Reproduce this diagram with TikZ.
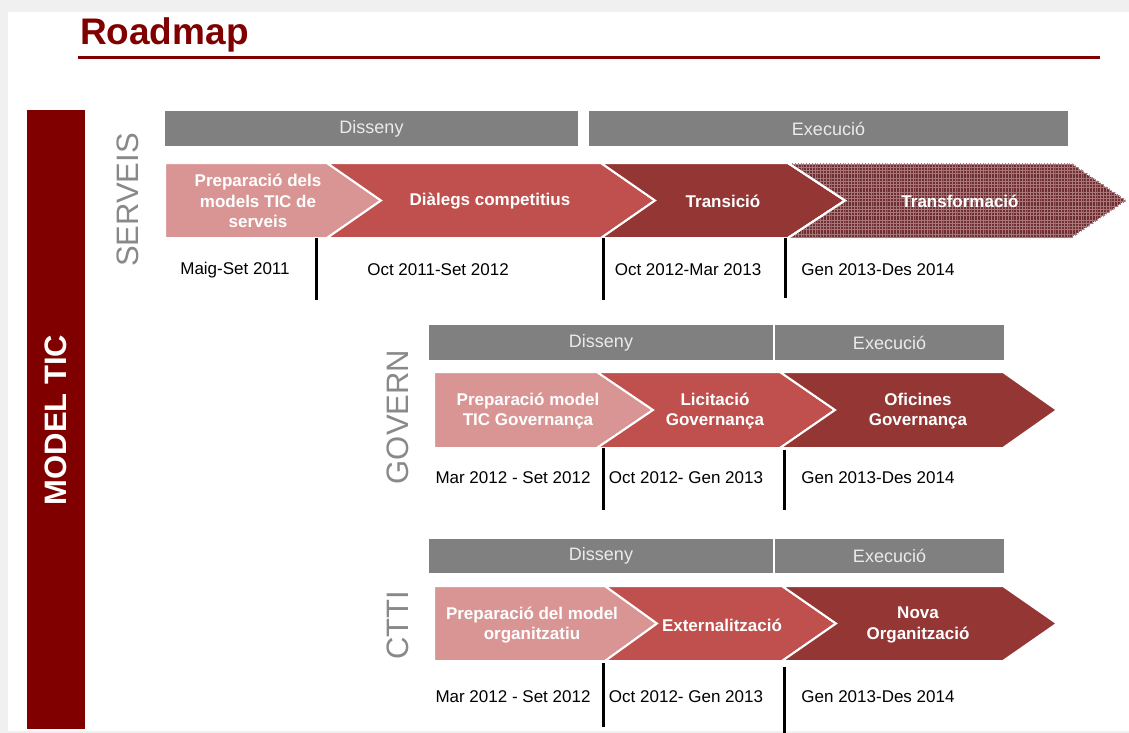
\documentclass[tikz,border=0pt]{standalone}
\usepackage{fontspec}
\setmainfont{Liberation Sans}
\usetikzlibrary{positioning,patterns.meta}

\definecolor{tictitle}{RGB}{128,0,0}
\definecolor{chevlight}{RGB}{217,149,148}
\definecolor{chevmid}{RGB}{192,80,77}
\definecolor{chevdark}{RGB}{148,54,52}
\definecolor{chevhatch}{RGB}{112,46,50}
\definecolor{hatchline}{RGB}{168,120,122}
\definecolor{hdrgray}{RGB}{128,128,128}
\definecolor{sidegray}{RGB}{137,137,137}

\tikzdeclarepattern{name=finegrid, type=uncolored,
  bottom left={(-.1pt,-.1pt)}, top right={(1.4pt,1.4pt)}, tile size={(1.4pt,1.4pt)},
  code={\draw[line width=.2pt] (0,0) -- (1.4pt,0) (0,0) -- (0,1.4pt);}}

\tikzset{
  hdr/.style={fill=hdrgray},
  hdrtext/.style={text=white!92!black, font=\fontsize{9}{11}\selectfont},
  chev/.style={draw=white, line width=1pt, line join=miter},
  chevtext/.style={text=white, align=center, font=\bfseries\fontsize{8.5}{10.3}\selectfont},
  datetext/.style={text=black, font=\fontsize{8.5}{10}\selectfont},
  sidelabel/.style={text=sidegray, rotate=90, font=\fontsize{15.5}{18}\selectfont},
  sep/.style={draw=black, line width=1.5pt}
}

\newcommand{\header}[6]{%
  \fill[hdr] (#2,#4) rectangle (#3,#5);
  \node[hdrtext] (#1) at ({(#2+#3)/2},{(#4+#5)/2}) {#6};}
\newcommand{\chevron}[7]{%
  \filldraw[chev,#7] (#1,#5) -- (#3,#5) -- (#4,{(#5+#6)/2}) -- (#3,#6) -- (#1,#6) -- (#2,{(#5+#6)/2}) -- cycle;}

\begin{document}
\begin{tikzpicture}[x=0.5pt,y=-0.5pt]
  \useasboundingbox (0,0) rectangle (1129,733);
  \fill[black!6] (0,0) rectangle (1129,733);
  \fill[white] (8,12) rectangle (1129,731);

  \node[anchor=base west, text=tictitle, font=\bfseries\fontsize{18.5}{22}\selectfont] (title) at (73,45) {Roadmap};
  \draw[tictitle, line width=1.5pt] (78,58) -- (1100,58);

  \fill[tictitle] (27,110) rectangle (85,729);
  \node[text=white, rotate=90, font=\bfseries\fontsize{15.5}{18}\selectfont] (model) at (56,420) {MODEL TIC};

  \node[sidelabel] (serveis) at (128,200) {SERVEIS};
  \node[sidelabel] (govern) at (398,417) {GOVERN};
  \node[sidelabel] (ctti) at (398,625) {CTTI};

  \header{sdis}{165}{578}{111}{146}{Disseny}
  \header{sexe}{589}{1068}{111}{146}{Execució}
  \header{gdis}{429}{773}{325}{360}{Disseny}
  \header{gexe}{775}{1004}{325}{360}{Execució}
  \header{cdis}{429}{773}{539}{573}{Disseny}
  \header{cexe}{775}{1004}{539}{573}{Execució}

  \chevron{165}{165}{327}{381}{163}{238}{fill=chevlight}
  \chevron{327}{381}{601}{655}{163}{238}{fill=chevmid}
  \chevron{601}{655}{788}{845}{163}{238}{fill=chevdark}
  \chevron{788}{845}{1072}{1127}{163}{238}{fill=chevhatch}
  \fill[pattern=finegrid, pattern color=hatchline] (788,163) -- (1072,163) -- (1127,200.5) -- (1072,238) -- (788,238) -- (845,200.5) -- cycle;
  \draw[white, line width=1pt] (788,163) -- (845,200.5) -- (788,238);

  \chevron{434}{434}{597}{653}{372}{448}{fill=chevlight}
  \chevron{597}{653}{780}{835}{372}{448}{fill=chevmid}
  \chevron{780}{835}{1003}{1057}{372}{448}{fill=chevdark}

  \chevron{434}{434}{605}{657}{586}{661}{fill=chevlight}
  \chevron{605}{657}{782}{836}{586}{661}{fill=chevmid}
  \chevron{782}{836}{1003}{1057}{586}{661}{fill=chevdark}

  \node[chevtext] (sprep) at (258,201) {Preparació dels\\models TIC de\\serveis};
  \node[chevtext] (sdial) at (490,201) {Diàlegs competitius};
  \node[chevtext] (strans) at (723,201) {Transició};
  \node[chevtext] (sform) at (960,201) {Transformació};

  \node[chevtext] (gprep) at (528,411) {Preparació model\\TIC Governança};
  \node[chevtext] (glic) at (715,411) {Licitació\\Governança};
  \node[chevtext] (gofi) at (918,411) {Oficines\\Governança};

  \node[chevtext] (cprep) at (532,625) {Preparació del model\\organitzatiu};
  \node[chevtext] (cext) at (722,625) {Externalització};
  \node[chevtext] (cnova) at (918,625) {Nova\\Organització};

  \draw[sep] (316,238) -- (316,300);
  \draw[sep] (603,238) -- (603,300);
  \draw[sep] (785,238) -- (785,298);
  \draw[sep] (603,448) -- (603,510);
  \draw[sep] (784,450) -- (784,510);
  \draw[sep] (603,663) -- (603,727);
  \draw[sep] (784,667) -- (784,733);

  \node[datetext] (sd1) at (235,270) {Maig-Set 2011};
  \node[datetext] (sd2) at (438,270) {Oct 2011-Set 2012};
  \node[datetext] (sd3) at (688,270) {Oct 2012-Mar 2013};
  \node[datetext] (sd4) at (878,270) {Gen 2013-Des 2014};

  \node[datetext] (gd1) at (513,478) {Mar 2012 - Set 2012};
  \node[datetext] (gd2) at (686,478) {Oct 2012- Gen 2013};
  \node[datetext] (gd3) at (878,478) {Gen 2013-Des 2014};

  \node[datetext] (cd1) at (513,697) {Mar 2012 - Set 2012};
  \node[datetext] (cd2) at (686,697) {Oct 2012- Gen 2013};
  \node[datetext] (cd3) at (878,697) {Gen 2013-Des 2014};
\end{tikzpicture}
\end{document}
